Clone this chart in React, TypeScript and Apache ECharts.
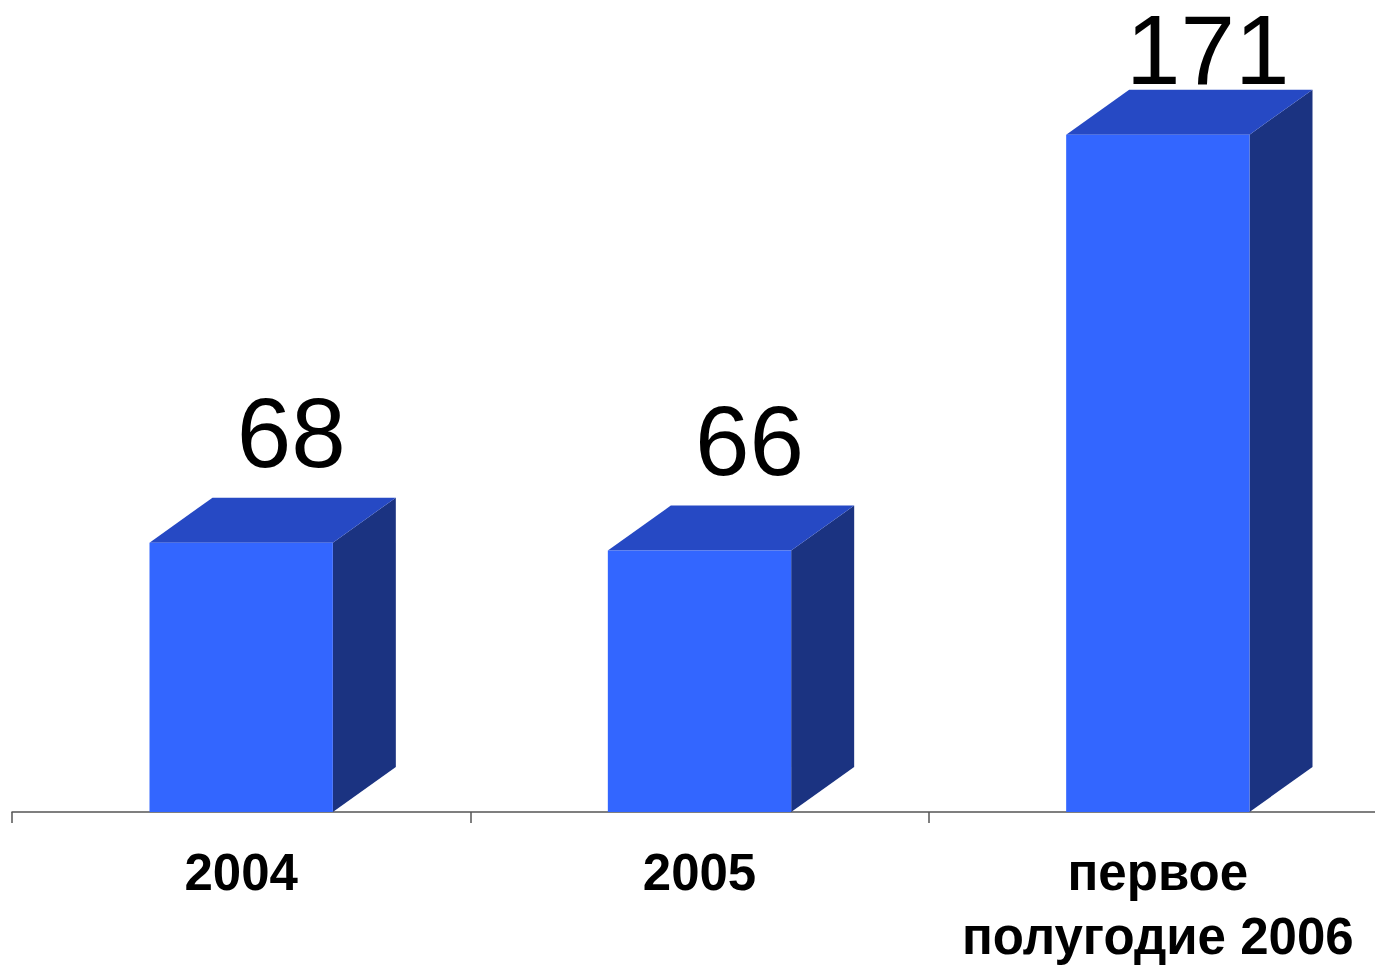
import React, { useEffect, useRef } from "react";
import * as echarts from "echarts";

const categories = ["2004", "2005", "первое\nполугодие 2006"];
const values = [68, 66, 171];

const FRONT = "#3366FF";
const TOP = "#2649C4";
const SIDE = "#1B3381";

export default function App() {
  const ref = useRef<HTMLDivElement>(null);
  useEffect(() => {
    if (!ref.current) return;
    const chart = echarts.init(ref.current, undefined, { renderer: "svg" });
    chart.setOption({
      animation: false,
      backgroundColor: "#ffffff",
      grid: { left: 12, right: 0, top: 0, bottom: 148, containLabel: false },
      xAxis: {
        type: "category",
        data: categories,
        boundaryGap: true,
        axisLine: { show: true, lineStyle: { color: "#555555", width: 1.5 } },
        axisTick: { show: true, length: 11, lineStyle: { color: "#555555", width: 1.5 } },
        axisLabel: {
          color: "#000000",
          fontFamily: "Liberation Sans",
          fontWeight: "bold",
          fontSize: 51,
          lineHeight: 64,
          margin: 28,
          interval: 0,
        },
      },
      yAxis: {
        type: "value",
        min: 0,
        max: 205,
        show: false,
        splitLine: { show: false },
      },
      series: [
        {
          type: "custom",
          data: values.map((v, i) => [i, v]),
          encode: { x: 0, y: 1 },
          clip: false,
          renderItem: (params: any, api: any) => {
            const x = api.value(0);
            const v = api.value(1);
            const base = api.coord([x, 0]);
            const top = api.coord([x, v]);
            const bw = api.size([1, 0])[0] * 0.4;
            const dx = 63;
            const dy = 45;
            const l = base[0] - bw / 2;
            const r = base[0] + bw / 2;
            const yb = base[1];
            const yt = top[1];
            const labelY = Math.max(yt - dy - 65, 50);
            return {
              type: "group",
              children: [
                {
                  type: "polygon",
                  shape: { points: [[r, yt], [r + dx, yt - dy], [r + dx, yb - dy], [r, yb]] },
                  style: { fill: SIDE },
                },
                {
                  type: "polygon",
                  shape: { points: [[l, yt], [l + dx, yt - dy], [r + dx, yt - dy], [r, yt]] },
                  style: { fill: TOP },
                },
                {
                  type: "rect",
                  shape: { x: l, y: yt, width: bw, height: yb - yt },
                  style: { fill: FRONT },
                },
                {
                  type: "text",
                  x: base[0] + 50,
                  y: labelY,
                  style: {
                    text: String(v),
                    fill: "#000000",
                    fontFamily: "Liberation Sans",
                    fontSize: 98,
                    lineHeight: 80,
                    align: "center",
                    verticalAlign: "middle",
                  },
                },
              ],
            };
          },
        },
      ],
    });
    return () => chart.dispose();
  }, []);
  return (
    <div
      style={{
        position: "fixed",
        left: 0,
        top: 0,
        width: 1375,
        height: 968,
        overflow: "hidden",
        background: "#fff",
      }}
    >
      <div ref={ref} style={{ width: 1387, height: 968 }} />
    </div>
  );
}
